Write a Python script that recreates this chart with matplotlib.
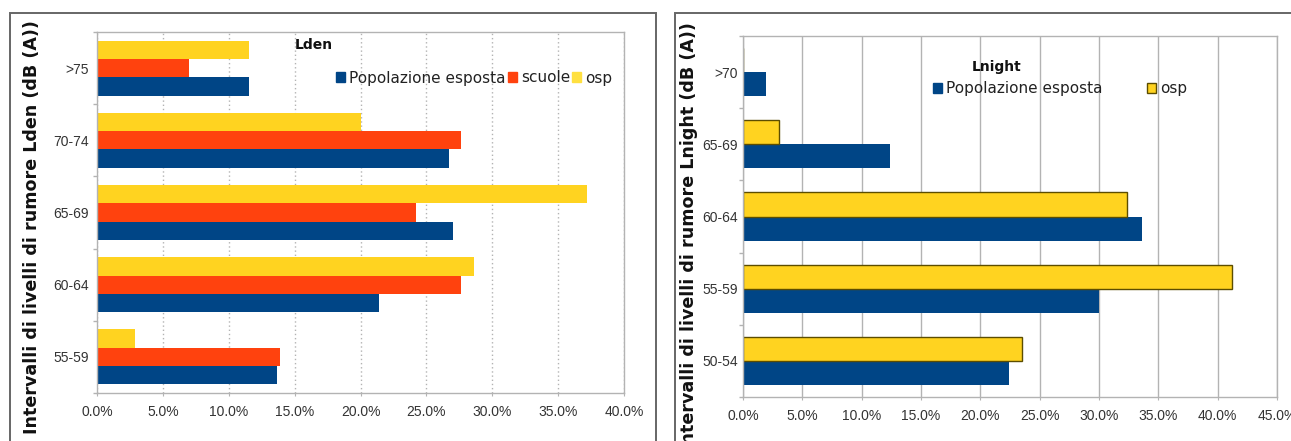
import matplotlib
matplotlib.use("Agg")
import matplotlib.pyplot as plt
from matplotlib.patches import Rectangle, Patch
from matplotlib.ticker import FuncFormatter, FixedLocator
import numpy as np

# ---------------- data ----------------
lden_categories = ["55-59", "60-64", "65-69", "70-74", ">75"]
lden_pop = [13.7, 21.4, 27.0, 26.7, 11.5]
lden_scuole = [13.9, 27.6, 24.2, 27.6, 7.0]
lden_osp = [2.9, 28.6, 37.2, 20.0, 11.5]
lden_xticks = [0, 5, 10, 15, 20, 25, 30, 35, 40]

lnight_categories = ["50-54", "55-59", "60-64", "65-69", ">70"]
lnight_pop = [22.4, 30.0, 33.6, 12.4, 1.9]
lnight_osp = [23.5, 41.2, 32.4, 3.0, 0.0]
lnight_xticks = [0, 5, 10, 15, 20, 25, 30, 35, 40, 45]

series_names = ["Popolazione esposta", "scuole", "osp"]
title_left = "Lden"
title_right = "Lnight"
ylabel_left = "Intervalli di livelli di rumore Lden (dB (A))"
ylabel_right = "Intervalli di livelli di rumore Lnight (dB (A))"

BLUE = "#004586"
RED = "#ff420e"
YEL = "#ffd320"
OSP_EDGE = "#5c4d00"
GRID = "#b3b3b3"
TXT = "#333333"

W, H = 1291, 441
fig = plt.figure(figsize=(W / 100, H / 100), dpi=100)
fig.patch.set_facecolor("white")


def ax_rect(x0, x1, ytop, ybot):
    return [x0 / W, 1 - ybot / H, (x1 - x0) / W, (ybot - ytop) / H]


pct = FuncFormatter(lambda v, p: f"{v:.1f}%")


def style_axis(ax, cats, xticks, gridstyle, ypad):
    ax.set_xlim(xticks[0], xticks[-1])
    ax.set_ylim(-0.5, len(cats) - 0.5)
    ax.set_xticks(xticks)
    ax.xaxis.set_major_formatter(pct)
    ax.set_yticks(np.arange(len(cats)))
    ax.set_yticklabels(cats)
    ax.yaxis.set_minor_locator(FixedLocator(np.arange(len(cats) + 1) - 0.5))
    ax.tick_params(axis="y", which="major", length=0, pad=ypad,
                   labelsize=10, labelcolor=TXT)
    ax.tick_params(axis="y", which="minor", length=3, color=GRID, width=1)
    ax.tick_params(axis="x", which="major", length=2.5, color=GRID, pad=6,
                   labelsize=10, labelcolor=TXT)
    for lab in ax.get_xticklabels() + ax.get_yticklabels():
        lab.set_fontfamily("Liberation Sans")
    for s in ax.spines.values():
        s.set_color(GRID)
        s.set_linewidth(1)
    ax.grid(axis="x", color=GRID, linestyle=gridstyle, linewidth=1)
    ax.set_axisbelow(True)


# ---------------- left chart (Lden) ----------------
axL = fig.add_axes(ax_rect(97, 624, 32, 393))
y = np.arange(len(lden_categories))
h = 0.254
bp = axL.barh(y - h, lden_pop, height=h, color=BLUE, label=series_names[0])
bs = axL.barh(y, lden_scuole, height=h, color=RED, label=series_names[1])
bo = axL.barh(y + h, lden_osp, height=h, color=YEL, label=series_names[2])
style_axis(axL, lden_categories, lden_xticks, (0, (1, 2)), 5.8)

fig.text(295 / W, 1 - 45 / H, title_left, fontsize=10, fontweight="bold",
         ha="left", va="center", color="#111111")
legL = fig.legend(handles=[Patch(color=BLUE), Patch(color=RED), Patch(color="#ffe040")],
                  labels=series_names, ncol=3, loc="center left",
                  bbox_to_anchor=(336 / W, 1 - 78 / H), bbox_transform=fig.transFigure,
                  frameon=False, fontsize=11, handlelength=0.6, handleheight=0.6,
                  handletextpad=0.25, columnspacing=0.15, borderpad=0, borderaxespad=0)
for t in legL.get_texts():
    t.set_color("#222222")

fig.text(32 / W, 1 - 20 / H, ylabel_left, rotation=90, ha="center", va="top",
         fontsize=12.6, fontweight="bold", color="#111111")

# ---------------- right chart (Lnight) ----------------
axR = fig.add_axes(ax_rect(743, 1277, 36, 397))
y2 = np.arange(len(lnight_categories))
h2 = 0.333
axR.barh(y2 - h2 / 2, lnight_pop, height=h2, color=BLUE, label=series_names[0])
axR.barh(y2 + h2 / 2, lnight_osp, height=h2, color=YEL, edgecolor=OSP_EDGE,
         linewidth=1, label=series_names[2])
style_axis(axR, lnight_categories, lnight_xticks, "-", 3.6)

fig.text(997 / W, 1 - 67 / H, title_right, fontsize=10, fontweight="bold",
         ha="center", va="center", color="#111111")
legR = fig.legend(handles=[Patch(color=BLUE), Patch(facecolor=YEL, edgecolor=OSP_EDGE, linewidth=1)],
                  labels=[series_names[0], series_names[2]], ncol=2, loc="center left",
                  bbox_to_anchor=(933 / W, 1 - 89 / H), bbox_transform=fig.transFigure,
                  frameon=False, fontsize=11, handlelength=0.6, handleheight=0.6,
                  handletextpad=0.25, columnspacing=2.9, borderpad=0, borderaxespad=0)
for t in legR.get_texts():
    t.set_color("#222222")

fig.text(689 / W, 1 - 22 / H, ylabel_right, rotation=90, ha="center", va="top",
         fontsize=12.6, fontweight="bold", color="#111111")

# ---------------- frames ----------------
fig.add_artist(Rectangle((10 / W, -0.05), (656 - 10) / W, 1.05 - 13 / H,
                         transform=fig.transFigure, fill=False, ec="#666666", lw=1.4))
fig.add_artist(Rectangle((675 / W, -0.05), (1300 - 675) / W, 1.05 - 13 / H,
                         transform=fig.transFigure, fill=False, ec="#666666", lw=1.4))

fig.savefig("out.png", dpi=100, facecolor="white")
